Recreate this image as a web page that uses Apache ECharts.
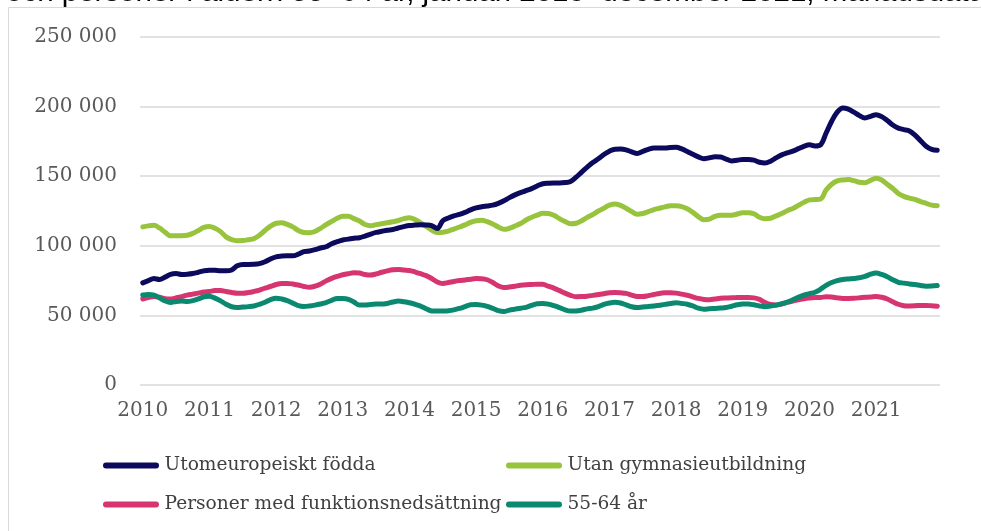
<!DOCTYPE html>
<html>
<head>
<meta charset="utf-8">
<script src="https://cdn.jsdelivr.net/npm/echarts@6/dist/echarts.min.js"></script>
<style>
  html, body { margin: 0; padding: 0; background: #fff; }
  #chart { width: 981px; height: 531px; }
</style>
</head>
<body>
<div id="chart"></div>
<script>
// monthly data, jan 2010 - dec 2021
const years = [2010, 2011, 2012, 2013, 2014, 2015, 2016, 2017, 2018, 2019, 2020, 2021]
const monthNames = ['01', '02', '03', '04', '05', '06', '07', '08', '09', '10', '11', '12']
const yTicks = [0, 50000, 100000, 150000, 200000, 250000]

const seriesNames = [
  'Utomeuropeiskt födda',
  'Utan gymnasieutbildning',
  'Personer med funktionsnedsättning',
  '55-64 år'
]

// values in thousands
const utomeuropeiskt = [
  73.4, 75.0, 76.5, 75.8, 77.5, 79.5, 80.1, 79.4, 79.6, 80.1, 81.0, 82.0,
  82.5, 82.4, 82.0, 82.0, 82.6, 85.6, 86.6, 86.6, 86.7, 87.2, 88.5, 90.5,
  92.1, 92.6, 92.8, 92.8, 94.0, 95.8, 96.3, 97.2, 98.4, 99.3, 101.5, 103.0,
  104.2, 104.8, 105.4, 105.8, 107.0, 108.4, 109.6, 110.4, 111.2, 111.7, 112.8, 113.8,
  114.6, 114.9, 115.1, 115.0, 114.5, 112.4, 118.0, 120.0, 121.5, 122.5, 124.0, 125.8,
  127.2, 128.0, 128.6, 129.2, 130.5, 132.3, 134.6, 136.6, 138.2, 139.6, 141.1, 143.0,
  144.6, 145.0, 145.2, 145.2, 145.4, 146.2, 149.3, 153.0, 156.5, 159.8, 162.5, 165.6,
  168.0, 169.4, 169.5, 168.9, 167.5, 166.3, 167.8, 169.3, 170.3, 170.3, 170.2, 170.6,
  170.8, 169.6, 167.8, 165.8, 163.9, 162.6, 163.2, 164.0, 163.8, 162.3, 161.0, 161.5,
  162.0, 162.0, 161.5, 160.0, 159.5, 160.8, 163.2, 165.3, 166.8, 168.0, 169.8, 171.5,
  172.6, 171.7, 172.5, 181.0, 189.5, 196.0, 199.0, 198.2, 196.0, 193.5, 191.8, 193.0,
  194.2, 192.8, 190.0, 186.8, 184.5, 183.5, 182.5, 179.5, 175.5, 171.5, 169.2, 168.6
]

const utanGymnasium = [
  113.6, 114.3, 114.7, 112.8, 109.8, 107.2, 107.3, 107.3, 107.6, 108.9, 111.0, 113.2,
  113.8, 112.6, 110.2, 106.4, 104.4, 103.7, 103.8, 104.4, 105.2, 107.6, 111.0, 114.2,
  116.2, 116.6, 115.4, 113.6, 111.0, 109.5, 109.4, 110.3, 112.6, 115.2, 117.5, 119.8,
  121.2, 121.2, 119.5, 117.8, 115.3, 114.4, 115.2, 115.9, 116.5, 117.3, 118.2, 119.5,
  120.2, 118.8, 116.5, 114.0, 111.3, 109.6, 109.8, 110.6, 112.0, 113.5, 115.0, 116.8,
  118.0, 118.4, 117.3, 115.6, 113.5, 111.8, 112.6, 114.2, 116.0, 118.5, 120.5, 122.0,
  123.4, 123.2, 121.9, 119.5, 117.4, 115.8, 116.2, 118.0, 120.4, 122.5, 125.0, 127.0,
  129.2, 130.1, 129.0, 127.0, 124.6, 122.7, 123.2, 124.5, 126.0, 127.0, 128.0, 128.7,
  128.7, 128.2, 126.6, 124.0, 121.0, 118.8, 119.2, 121.2, 122.0, 122.0, 122.0, 122.8,
  123.8, 123.8, 123.0, 120.5, 119.5, 119.8, 121.5, 123.2, 125.2, 126.8, 129.0, 131.2,
  133.0, 133.2, 133.6, 140.0, 144.2, 146.6, 147.3, 147.6, 146.8, 145.6, 145.3, 147.0,
  148.6, 147.3, 144.2, 141.2, 137.6, 135.5, 134.2, 133.3, 131.8, 130.5, 129.2, 128.8
]

const funktionsnedsattning = [
  61.8, 62.8, 63.6, 63.0, 62.0, 61.8, 62.6, 63.5, 64.6, 65.3, 66.0, 66.8,
  67.2, 67.8, 67.8, 67.2, 66.5, 65.9, 65.9, 66.4, 67.2, 68.2, 69.6, 70.8,
  72.2, 73.0, 73.0, 72.6, 71.8, 70.8, 70.2, 71.0, 72.6, 74.8, 76.6, 78.0,
  79.2, 80.0, 80.6, 80.4, 79.4, 79.0, 79.8, 81.0, 82.0, 82.8, 83.0, 82.6,
  82.3, 81.2, 80.0, 78.6, 76.5, 74.0, 73.0, 73.6, 74.4, 75.0, 75.4, 76.0,
  76.5, 76.4, 75.6, 73.6, 71.2, 70.0, 70.4, 71.0, 71.6, 72.0, 72.2, 72.4,
  72.3, 71.0, 69.6, 67.8, 66.0, 64.4, 63.4, 63.5, 63.8, 64.4, 65.0, 65.6,
  66.3, 66.4, 66.2, 65.8, 64.6, 63.6, 63.6, 64.2, 65.0, 65.8, 66.2, 66.3,
  66.0, 65.3, 64.5, 63.3, 62.2, 61.5, 61.3, 61.8, 62.3, 62.5, 62.7, 62.8,
  62.9, 62.9, 62.6, 61.5, 59.3, 57.8, 57.4, 58.2, 59.3, 60.3, 61.2, 62.0,
  62.5, 62.8, 62.9, 63.4, 63.2, 62.6, 62.2, 62.2, 62.3, 62.6, 63.0, 63.2,
  63.6, 63.0, 61.8, 59.8, 58.0, 57.0, 56.8, 56.9, 57.2, 57.2, 56.9, 56.6
]

const aldern5564 = [
  64.6, 65.0, 64.6, 62.6, 60.4, 59.3, 60.0, 60.3, 59.9, 60.6, 61.8, 63.4,
  63.8, 62.4, 60.4, 58.0, 56.2, 55.7, 56.0, 56.3, 56.8, 58.0, 59.5, 61.4,
  62.4, 61.8, 60.6, 58.8, 57.0, 56.4, 56.8, 57.4, 58.2, 59.2, 60.8, 62.2,
  62.2, 61.6, 59.6, 57.4, 57.4, 57.9, 58.1, 58.1, 58.6, 59.6, 60.3, 59.8,
  59.1, 58.0, 56.7, 54.8, 53.2, 53.1, 53.2, 53.4, 54.0, 55.0, 56.3, 57.6,
  57.8, 57.4, 56.5, 55.0, 53.4, 52.8, 53.8, 54.5, 55.2, 55.8, 57.2, 58.4,
  58.6, 58.1, 57.0, 55.6, 54.0, 53.1, 53.2, 53.8, 54.7, 55.2, 56.3, 57.9,
  58.9, 59.4, 58.9, 57.6, 56.2, 55.6, 56.0, 56.4, 56.7, 57.3, 57.9, 58.6,
  59.1, 58.6, 58.0, 56.8, 55.2, 54.5, 54.8, 55.0, 55.3, 55.7, 56.6, 57.6,
  58.1, 58.1, 57.6, 56.8, 56.3, 56.8, 57.4, 58.4, 59.6, 61.2, 63.0, 64.6,
  65.6, 66.6, 68.8, 71.6, 73.6, 75.0, 75.8, 76.2, 76.5, 77.0, 78.0, 79.6,
  80.4, 79.4, 77.8, 75.6, 73.8, 73.2, 72.6, 72.2, 71.5, 71.0, 71.1, 71.5
]

const colors = ['#0b0a5c', '#98c43d', '#d6356f', '#0a8970']

const categories = years.flatMap(y => monthNames.map(m => y + '-' + m))
const allValues = [utomeuropeiskt, utanGymnasium, funktionsnedsattning, aldern5564]

const formatThousands = (v) => {
  if (v === 0) return '0'
  return Math.floor(v / 1000) + ' ' + String(v % 1000).padStart(3, '0')
}

const chart = echarts.init(document.getElementById('chart'), null, { renderer: 'canvas' })

const legendIcon = 'path://M3,0 L53,0 A3,3 0 0 1 53,6 L3,6 A3,3 0 0 1 3,0 Z'
const serif = '"DejaVu Serif", serif'

const legendBase = {
  orient: 'vertical',
  top: 456,
  padding: 0,
  itemWidth: 57,
  itemHeight: 6,
  itemGap: 20,
  icon: legendIcon,
  textStyle: { fontFamily: serif, fontSize: 18.6, color: '#404040' }
}

chart.setOption({
  backgroundColor: '#ffffff',
  animation: false,
  graphic: [
    {
      type: 'rect',
      shape: { x: 8.5, y: 7.5, width: 1200, height: 800 },
      style: { fill: 'none', stroke: '#d9d9d9', lineWidth: 1 },
      silent: true
    },
    {
      type: 'text',
      left: 6,
      top: -22,
      style: {
        text: 'och personer i åldern 55–64 år, januari 2010–december 2021, månadsdata',
        font: '29.5px "Liberation Sans", Arial, sans-serif',
        fill: '#000000'
      },
      silent: true
    }
  ],
  grid: { left: 140, top: 37, width: 800, height: 348, containLabel: false },
  xAxis: {
    type: 'category',
    data: categories,
    boundaryGap: true,
    axisLine: { show: false },
    axisTick: { show: false },
    axisLabel: {
      interval: (idx) => idx % 12 === 0,
      formatter: (val) => val.slice(0, 4),
      margin: 16,
      fontFamily: serif,
      fontSize: 20,
      color: '#595959'
    }
  },
  yAxis: {
    type: 'value',
    min: yTicks[0],
    max: yTicks[yTicks.length - 1],
    interval: yTicks[1] - yTicks[0],
    axisLine: { show: false },
    axisTick: { show: false },
    splitLine: { lineStyle: { color: '#d9d9d9', width: 1.5 } },
    axisLabel: {
      margin: 23,
      fontFamily: serif,
      fontSize: 20,
      color: '#595959',
      formatter: formatThousands
    }
  },
  legend: [
    Object.assign({}, legendBase, { data: [seriesNames[0], seriesNames[2]], left: 103 }),
    Object.assign({}, legendBase, { data: [seriesNames[1], seriesNames[3]], left: 506 })
  ],
  series: allValues.map((vals, i) => ({
    name: seriesNames[i],
    type: 'line',
    data: vals.map(v => Math.round(v * 1000)),
    smooth: 0.35,
    showSymbol: false,
    color: colors[i],
    lineStyle: { width: 5, color: colors[i], cap: 'round', join: 'round' },
    itemStyle: { color: colors[i] },
    z: i === 0 ? 5 : 2
  }))
})
</script>
</body>
</html>
